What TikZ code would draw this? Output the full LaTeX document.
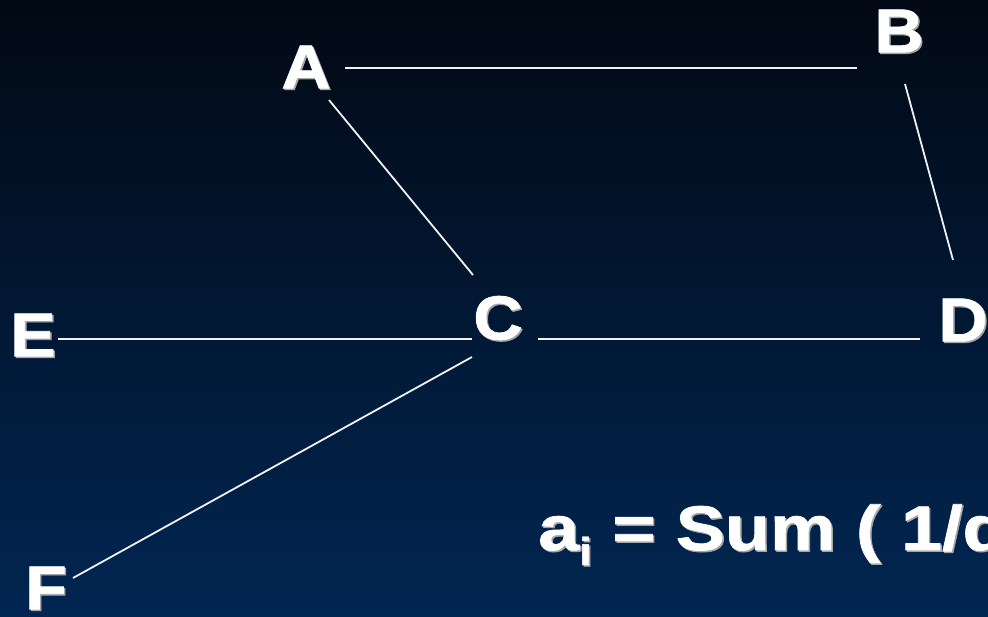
\documentclass[tikz,border=0pt]{standalone}
\usepackage{fontspec}
\setmainfont{Liberation Sans}
\newfontfamily\heavy[FakeStretch=1.1,FakeBold=1.2]{Liberation Sans}
\newfontfamily\heavyf[FakeStretch=1.17,FakeBold=1.2]{Liberation Sans}
\begin{document}
\begin{tikzpicture}[x=1pt,y=-1pt,
  lbl/.style={inner sep=0pt,text=white,font=\heavy\bfseries\fontsize{62}{72}\selectfont},
  shd/.style={inner sep=0pt,text=gray!70,font=\heavy\bfseries\fontsize{62}{72}\selectfont},
  edge/.style={draw=white!90!gray,line width=1.8pt}]
\useasboundingbox (0,0) rectangle (988,616);
\clip (0,0) rectangle (988,616);
\shade[top color={rgb,255:red,2;green,9;blue,20},bottom color={rgb,255:red,1;green,38;blue,82}] (0,0) rectangle (988,616);
% shadows
\foreach \t/\x/\y in {A/306/67,B/899/31,C/498/318,D/963/320,E/33/335,F/46/588}
  \node[shd] at (\x+1.5,\y+1.5) {\t};
\node[lbl] (A) at (306,67) {A};
\node[lbl] (B) at (899,31) {B};
\node[lbl] (C) at (498,318) {C};
\node[lbl] (D) at (963,320) {D};
\node[lbl] (E) at (33,335) {E};
\node[lbl] (F) at (46,588) {F};
% connector end points
\coordinate (ab1) at (345,68);  \coordinate (ab2) at (857,68);
\coordinate (ac1) at (329,100); \coordinate (ac2) at (473,275);
\coordinate (bd1) at (905,84);  \coordinate (bd2) at (953,260);
\coordinate (ec1) at (58,339);  \coordinate (ec2) at (472,339);
\coordinate (cd1) at (538,339); \coordinate (cd2) at (920,339);
\coordinate (cf1) at (472,357); \coordinate (cf2) at (73,578);
\draw[edge] (ab1) -- (ab2);
\draw[edge] (ac1) -- (ac2);
\draw[edge] (bd1) -- (bd2);
\draw[edge] (ec1) -- (ec2);
\draw[edge] (cd1) -- (cd2);
\draw[edge] (cf1) -- (cf2);
% formula
\node[inner sep=0pt,anchor=base west,text=gray!70,font=\heavyf\bfseries\fontsize{63}{72}\selectfont] at (539.5,551.5)
  {a\raisebox{-15pt}{\fontsize{39}{44}\selectfont i} = Sum ( 1/d};
\node[inner sep=0pt,anchor=base west,text=white,font=\heavyf\bfseries\fontsize{63}{72}\selectfont] (formula) at (538,550)
  {a\raisebox{-15pt}{\fontsize{39}{44}\selectfont i} = Sum ( 1/d};
\end{tikzpicture}
\end{document}
